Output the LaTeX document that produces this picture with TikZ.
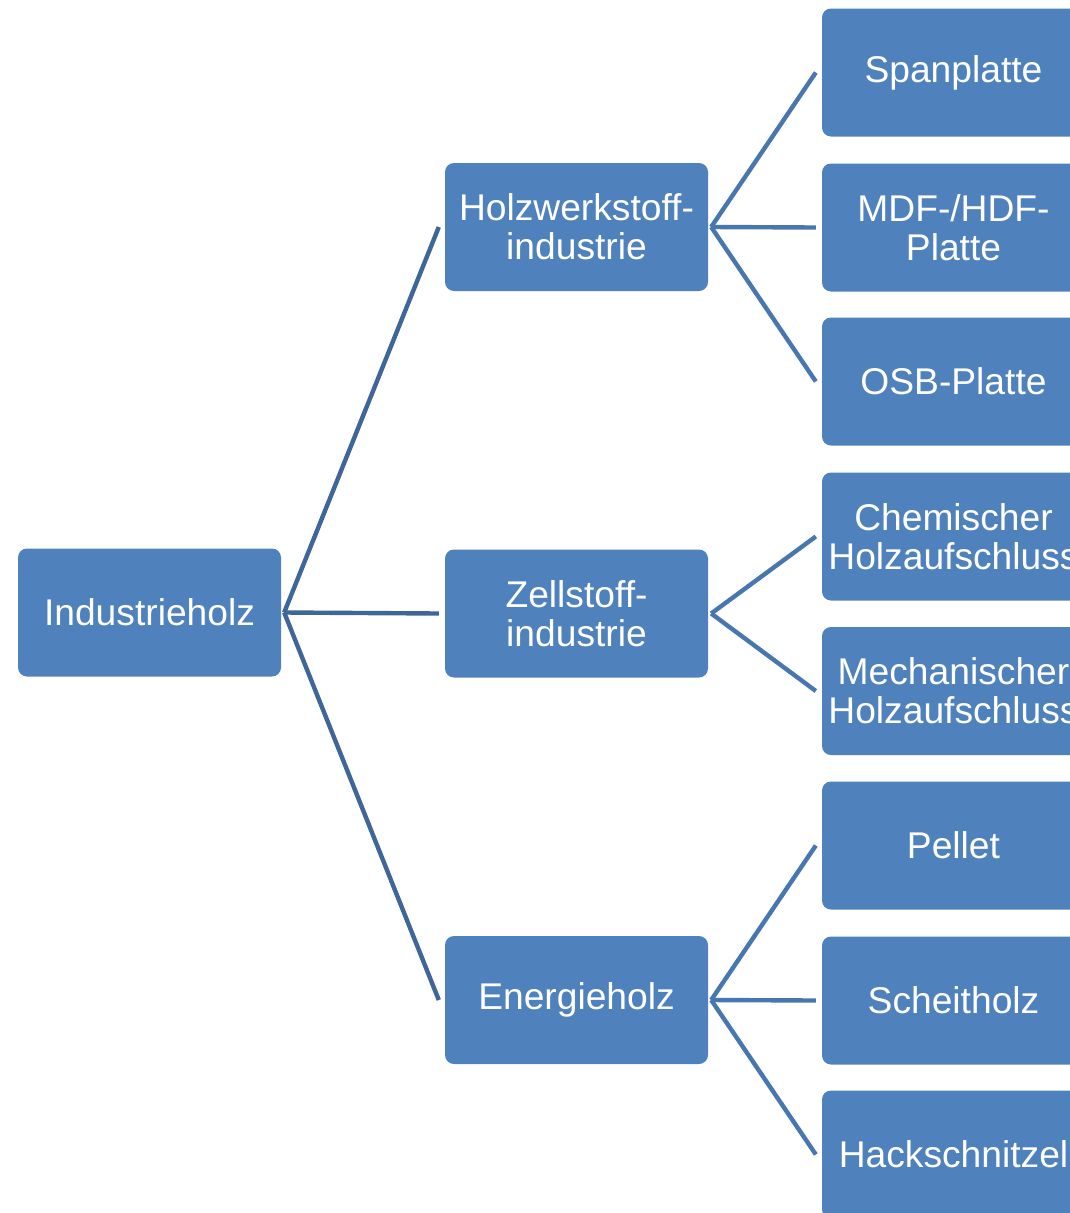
\documentclass[tikz,border=0pt]{standalone}
\usepackage{fontspec}
\setmainfont{Liberation Sans}
\definecolor{boxblue}{HTML}{4F81BD}
\definecolor{lineA}{HTML}{3E6699}
\definecolor{lineB}{HTML}{4877B0}
\begin{document}
\begin{tikzpicture}[x=1pt,y=-1pt,
  box/.style={rectangle, rounded corners=9pt, fill=boxblue, draw=none,
    minimum width=263pt, minimum height=128pt, inner sep=0pt,
    text=white, align=center, font=\fontsize{37.2}{39}\selectfont},
  connA/.style={draw=lineA, line width=4.4pt},
  connB/.style={draw=lineB, line width=4.4pt}]
\useasboundingbox (0,0) rectangle (1070,1213);
\clip (0,0) rectangle (1070,1213);
\node[box] (ind) at (149.5,612.5) {Industrieholz};
\node[box] (holz) at (576.5,227) {Holzwerkstoff-\\industrie};
\node[box] (zell) at (576.5,613.5) {Zellstoff-\\industrie};
\node[box] (ener) at (576.5,1000) {Energieholz};
\node[box] (span) at (953.5,72.5) {Spanplatte};
\node[box] (mdf) at (953.5,227.5) {MDF-/HDF-\\Platte};
\node[box] (osb) at (953.5,381.5) {OSB-Platte};
\node[box] (chem) at (953.5,536.5) {Chemischer\\Holzaufschluss};
\node[box] (mech) at (953.5,691) {Mechanischer\\Holzaufschluss};
\node[box] (pell) at (953.5,845.5) {Pellet};
\node[box] (sche) at (953.5,1000.5) {Scheitholz};
\node[box] (hack) at (953.5,1154.5) {Hackschnitzel};
\foreach \c in {holz,zell,ener}
  \draw[connA] ([xshift=3pt]ind.east) -- ([xshift=-6pt]\c.west);
\foreach \c in {span,mdf,osb}
  \draw[connB] ([xshift=3pt]holz.east) -- ([xshift=-6pt]\c.west);
\foreach \c in {chem,mech}
  \draw[connB] ([xshift=3pt]zell.east) -- ([xshift=-6pt]\c.west);
\foreach \c in {pell,sche,hack}
  \draw[connB] ([xshift=3pt]ener.east) -- ([xshift=-6pt]\c.west);
\end{tikzpicture}
\end{document}
